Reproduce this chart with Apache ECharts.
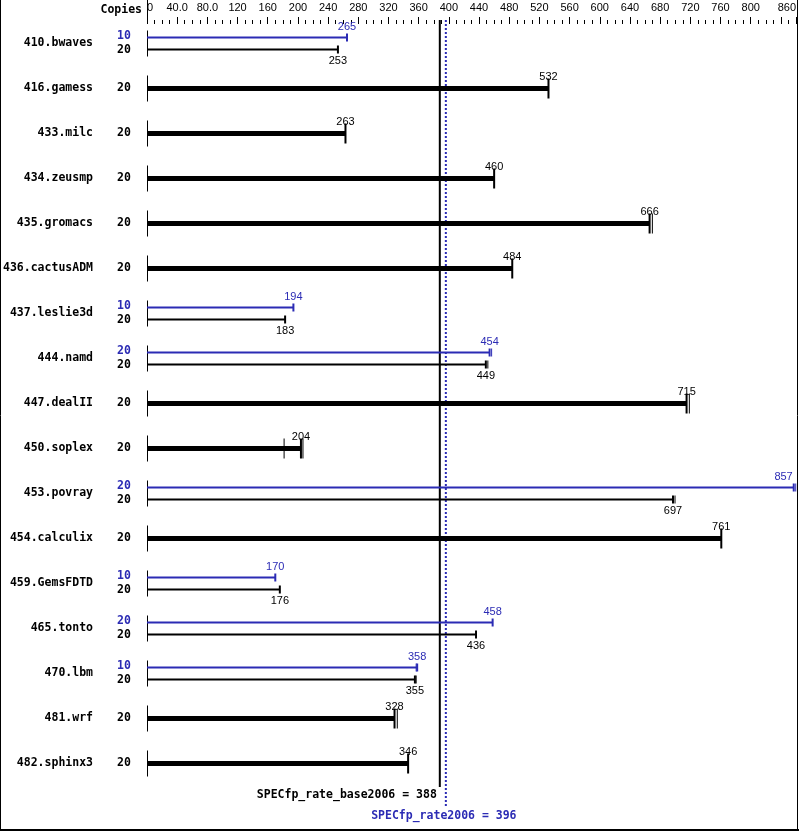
<!DOCTYPE html>
<html><head><meta charset="utf-8">
<script src="https://cdn.jsdelivr.net/npm/echarts@6/dist/echarts.min.js"></script>
<style>html,body{margin:0;padding:0;background:#fff}#c{width:799px;height:831px}</style>
</head><body><div id="c"></div>
<script>
const names = ['410.bwaves','416.gamess','433.milc','434.zeusmp','435.gromacs','436.cactusADM','437.leslie3d','444.namd','447.dealII','450.soplex','453.povray','454.calculix','459.GemsFDTD','465.tonto','470.lbm','481.wrf','482.sphinx3'];
const baseCopies = [20,20,20,20,20,20,20,20,20,20,20,20,20,20,20,20,20];
const baseVals = [253,532,263,460,666,484,183,449,715,204,697,761,176,436,355,328,346];
const peakCopies = [10,null,null,null,null,null,10,20,null,null,20,null,10,20,10,null,null];
const peakVals = [265,null,null,null,null,null,194,454,null,null,857,null,170,458,358,null,null];
const baseExtra = [[],[],[],[],[669],[],[],[451],[718],[181,206],[699],[],[],[],[356],[331],[]];
const peakExtra = [[],[],[],[],[],[],[],[456],[],[],[859],[],[],[],[356],[],[]];
const xTicks = {min:0, max:860, step:40};
const baseScore = 388, peakScore = 396;
const baseLabel = 'SPECfp_rate_base2006 = 388';
const peakLabel = 'SPECfp_rate2006 = 396';

const BLUE = '#2b2bb4';
const MONO = '"DejaVu Sans Mono", monospace';
const SANS = '"Liberation Sans", Arial, sans-serif';

const chart = echarts.init(document.getElementById('c'));

function rowItem(params, api) {
  const i = api.value(1);
  const p0 = api.coord([0, i]);
  const x0 = p0[0], yc = p0[1];
  const ch = [];
  const line = (x1,y1,x2,y2,c,w) => ch.push({type:'line', shape:{x1,y1,x2,y2}, style:{stroke:c, lineWidth:w}});
  const txt = (t,x,y,c,align,font,bold) => ch.push({type:'text', style:{text:t, x, y, fill:c, align, verticalAlign:'middle', fontFamily:font, fontSize: bold?11.5:11, fontWeight: bold?'bold':'normal'}});
  const valLabel = (t,x,y,c) => { if (x + 12 > 790) txt(t, x-1, y, c, 'right', SANS, false); else txt(t, x, y, c, 'center', SANS, false); };
  line(x0+0.5, yc-13, x0+0.5, yc+13, '#000', 1);
  if (peakVals[i] == null) {
    const xe = api.coord([baseVals[i], i])[0];
    ch.push({type:'rect', shape:{x:x0, y:yc-2.5, width:xe-x0, height:5}, style:{fill:'#000'}});
    line(xe, yc-10, xe, yc+10, '#000', 2);
    baseExtra[i].forEach(v => { const xx = api.coord([v, i])[0]; line(xx+0.5, yc-10, xx+0.5, yc+10, '#000', 1); });
    valLabel(String(baseVals[i]), xe, yc-12, '#000');
    txt(String(baseCopies[i]), x0-30, yc, '#000', 'left', MONO, true);
  } else {
    const yp = yc-6, yb = yc+6;
    const xp = api.coord([peakVals[i], i])[0];
    const xb = api.coord([baseVals[i], i])[0];
    line(x0, yp, xp, yp, BLUE, 2);
    line(xp, yp-4, xp, yp+4, BLUE, 2);
    peakExtra[i].forEach(v => { const xx = api.coord([v, i])[0]; line(xx+0.5, yp-4, xx+0.5, yp+4, BLUE, 1); });
    line(x0, yb, xb, yb, '#000', 2);
    line(xb, yb-4, xb, yb+4, '#000', 2);
    baseExtra[i].forEach(v => { const xx = api.coord([v, i])[0]; line(xx+0.5, yb-4, xx+0.5, yb+4, '#000', 1); });
    valLabel(String(peakVals[i]), xp, yp-11, BLUE);
    valLabel(String(baseVals[i]), xb, yb+11, '#000');
    txt(String(peakCopies[i]), x0-30, yp-1, BLUE, 'left', MONO, true);
    txt(String(baseCopies[i]), x0-30, yb+1, '#000', 'left', MONO, true);
  }
  return {type:'group', children: ch};
}

function refItem(params, api) {
  const xb = api.coord([baseScore, 0])[0];
  const xp = api.coord([peakScore, 0])[0];
  return {type:'group', children:[
    {type:'line', shape:{x1:xb, y1:20, x2:xb, y2:787}, style:{stroke:'#000', lineWidth:2}},
    {type:'line', shape:{x1:xp, y1:20, x2:xp, y2:808}, style:{stroke:BLUE, lineWidth:2, lineDash:[2,2]}},
    {type:'text', style:{text:baseLabel, x:xb-3, y:795, align:'right', verticalAlign:'middle', fill:'#000', fontFamily:MONO, fontSize:11.5, fontWeight:'bold'}},
    {type:'text', style:{text:peakLabel, x:xp-2, y:816, align:'center', verticalAlign:'middle', fill:BLUE, fontFamily:MONO, fontSize:11.5, fontWeight:'bold'}}
  ]};
}

chart.setOption({
  animation: false,
  grid: {left:147, right:3, top:21, bottom:45, containLabel:false},
  xAxis: {
    type:'value', position:'top', min:xTicks.min, max:xTicks.max, interval:xTicks.step, offset:-3,
    axisLine:{show:false},
    axisTick:{show:true, length:7, lineStyle:{color:'#000', width:1}},
    minorTick:{show:true, splitNumber:4, length:4, lineStyle:{color:'#000', width:1}},
    splitLine:{show:false}, minorSplitLine:{show:false},
    axisLabel:{margin:11, color:'#000', fontFamily:SANS, fontSize:11, alignMinLabel:'left', alignMaxLabel:'right',
      formatter: v => v===40?'40.0':(v===80?'80.0':(v===840?'':String(v)))}
  },
  yAxis: {
    type:'category', inverse:true, data:names,
    axisLine:{show:false}, axisTick:{show:false}, splitLine:{show:false},
    axisLabel:{margin:54, color:'#000', fontFamily:MONO, fontSize:11.5, fontWeight:'bold'}
  },
  graphic: [
    {type:'text', style:{text:'Copies', x:142, y:10, align:'right', verticalAlign:'middle', fill:'#000', fontFamily:MONO, fontSize:11.5, fontWeight:'bold'}},
    {type:'line', shape:{x1:147.5, y1:0, x2:147.5, y2:24}, style:{stroke:'#000', lineWidth:1}},
    {type:'line', shape:{x1:0.5, y1:0, x2:0.5, y2:831}, style:{stroke:'#000', lineWidth:1}},
    {type:'line', shape:{x1:797.5, y1:0, x2:797.5, y2:831}, style:{stroke:'#000', lineWidth:1}},
    {type:'line', shape:{x1:0, y1:830, x2:799, y2:830}, style:{stroke:'#000', lineWidth:2}}
  ],
  series: [
    {type:'custom', renderItem: rowItem, clip:false, encode:{x:0, y:1},
     data: names.map((n,i) => [baseVals[i], i])},
    {type:'custom', renderItem: refItem, clip:false, encode:{x:0, y:1},
     data: [[baseScore, 0]], z:1}
  ]
});
</script></body></html>
